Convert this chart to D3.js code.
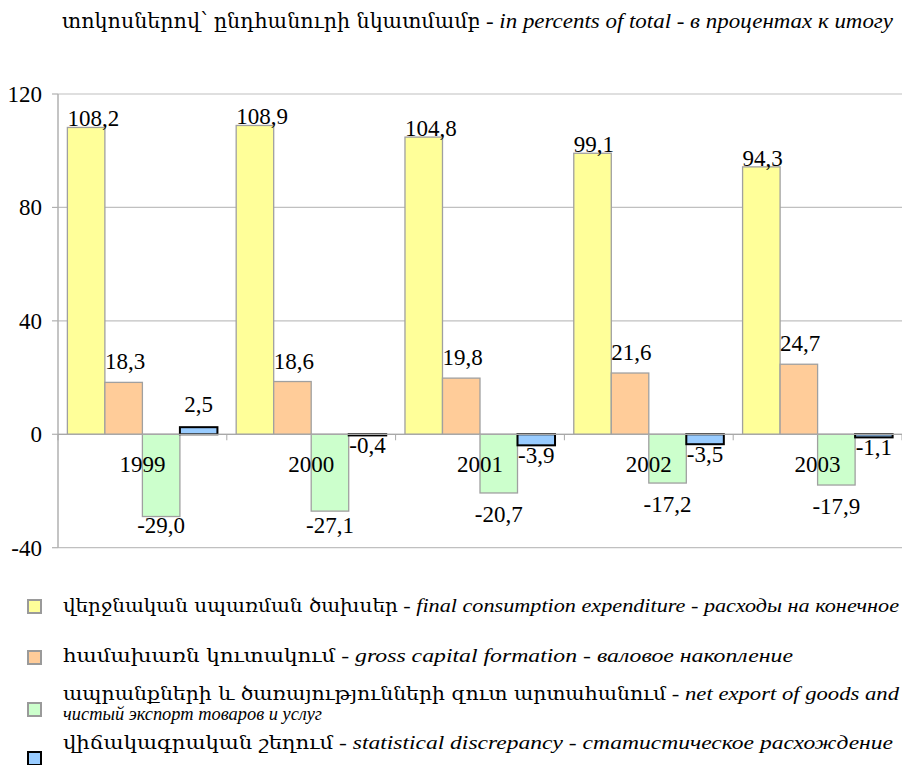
<!DOCTYPE html>
<html>
<head>
<meta charset="utf-8">
<script src="https://cdn.jsdelivr.net/npm/d3@7"></script>
</head>
<body>
<div id="chart"></div>
<script>
// --- data ---
const years = ['1999', '2000', '2001', '2002', '2003'];
const finalConsumption = [108.2, 108.9, 104.8, 99.1, 94.3];
const grossCapital = [18.3, 18.6, 19.8, 21.6, 24.7];
const netExport = [-29.0, -27.1, -20.7, -17.2, -17.9];
const discrepancy = [2.5, -0.4, -3.9, -3.5, -1.1];
const yTicks = [-40, 0, 40, 80, 120];

// text parts: a = Armenian, i = italic
const titleParts = [
  { t: 'տոկոսներով՝ ընդհանուրի նկատմամբ', a: true },
  { t: ' - ' },
  { t: 'in percents of  total', i: true },
  { t: ' - ' },
  { t: 'в процентах к итогу', i: true }
];

const legendRows = [
  [[{ t: 'վերջնական սպառման ծախսեր', a: true }, { t: ' - ' }, { t: 'final consumption expenditure', i: true }, { t: ' - ' }, { t: 'расходы на конечное', i: true }]],
  [[{ t: 'համախառն կուտակում', a: true }, { t: ' - ' }, { t: 'gross capital formation', i: true }, { t: ' - ' }, { t: 'валовое накопление', i: true }]],
  [[{ t: 'ապրանքների և ծառայությունների զուտ արտահանում', a: true }, { t: ' - ' }, { t: 'net export of goods and', i: true }],
   [{ t: 'чистый экспорт товаров и услуг', i: true }]],
  [[{ t: 'վիճակագրական շեղում', a: true }, { t: ' - ' }, { t: 'statistical discrepancy', i: true }, { t: ' - ' }, { t: 'статистическое расхождение', i: true }]]
];

const seriesKeys = ['fc', 'gc', 'ne', 'sd'];
const seriesValues = [finalConsumption, grossCapital, netExport, discrepancy];
const fills = ['#ffff99', '#ffcc99', '#ccffcc', '#99ccff'];
const strokes = ['#a0a0a0', '#a0a0a0', '#a0a0a0', '#000000'];

// --- layout ---
const W = 902, H = 765;
const FONT = 'Liberation Serif, serif';
const ARM_FONT = 'DejaVu Serif Condensed, DejaVu Serif, serif';
const plot = { left: 58, right: 902, top: 94, bottom: 547.7 };
const fmt = v => (v < 0 ? '-' : '') + d3.format('.1f')(Math.abs(v)).replace('.', ',');

const svg = d3.select('#chart').append('svg').attr('width', W).attr('height', H)
  .style('position', 'absolute').style('left', '0px').style('top', '0px')
  .style('font-family', FONT);

const x0 = d3.scaleBand().domain(years).range([plot.left, plot.right]).padding(0);
const x1 = d3.scaleBand().domain(seriesKeys).range([0, x0.bandwidth()]).paddingInner(0).paddingOuter(0.25);
const y = d3.scaleLinear().domain([-40, 120]).range([plot.bottom, plot.top]);

// gridlines
svg.append('g').selectAll('line').data(yTicks).enter().append('line')
  .attr('x1', plot.left).attr('x2', plot.right)
  .attr('y1', d => y(d)).attr('y2', d => y(d))
  .attr('stroke', '#c0c0c0').attr('stroke-width', 1.2);

// y axis: line, ticks, labels
svg.append('line').attr('x1', plot.left).attr('x2', plot.left).attr('y1', plot.top).attr('y2', plot.bottom)
  .attr('stroke', '#b0b0b0').attr('stroke-width', 1.5);
svg.append('g').selectAll('line').data(yTicks).enter().append('line')
  .attr('x1', plot.left - 6).attr('x2', plot.left)
  .attr('y1', d => y(d)).attr('y2', d => y(d))
  .attr('stroke', '#b0b0b0').attr('stroke-width', 1.2);
svg.append('g').selectAll('text').data(yTicks).enter().append('text')
  .attr('x', plot.left - 16).attr('y', d => y(d) + 8)
  .attr('text-anchor', 'end')
  .style('font-family', FONT).style('font-size', '23px')
  .text(d => String(d));

// bars
seriesValues.forEach((vals, s) => {
  svg.append('g').selectAll('rect').data(vals).enter().append('rect')
    .attr('x', (d, i) => x0(years[i]) + x1(seriesKeys[s]))
    .attr('y', d => Math.min(y(d), y(0)))
    .attr('width', x1.bandwidth())
    .attr('height', d => Math.abs(y(d) - y(0)))
    .attr('fill', fills[s])
    .attr('stroke', strokes[s])
    .attr('stroke-width', s === 3 ? 2 : 1.3);
});

// x axis line and ticks
svg.append('line').attr('x1', plot.left).attr('x2', plot.right).attr('y1', y(0)).attr('y2', y(0))
  .attr('stroke', '#a8a8a8').attr('stroke-width', 1.3);
svg.append('g').selectAll('line').data(years.concat(['end'])).enter().append('line')
  .attr('x1', d => d === 'end' ? plot.right : x0(d)).attr('x2', d => d === 'end' ? plot.right : x0(d))
  .attr('y1', y(0)).attr('y2', y(0) + 6)
  .attr('stroke', '#a8a8a8').attr('stroke-width', 1);

// year labels
svg.append('g').selectAll('text').data(years).enter().append('text')
  .attr('x', d => x0(d) + x0.bandwidth() / 2).attr('y', y(0) + 38)
  .attr('text-anchor', 'middle')
  .style('font-family', FONT).style('font-size', '23px').text(d => d);

// value labels
seriesValues.forEach((vals, s) => {
  svg.append('g').selectAll('text').data(vals).enter().append('text')
    .attr('x', (d, i) => {
      const bx = x0(years[i]) + x1(seriesKeys[s]);
      return s < 2 ? bx : bx + x1.bandwidth() / 2;
    })
    .attr('y', d => {
      if (s === 0) return y(d) - 1;
      if (s === 1) return y(d) - 13;
      if (s === 2) return Math.min(y(d) + 29, plot.bottom - 15);
      return d >= 0 ? y(d) - 15 : y(d) + 18;
    })
    .attr('text-anchor', s < 2 ? 'start' : 'middle')
    .style('font-family', FONT).style('font-size', '23px')
    .text(d => fmt(d));
});

// mixed-style text, condensed to a target width with textLength
function addText(x, yPos, size, width, parts) {
  const t = svg.append('text').attr('x', x).attr('y', yPos)
    .style('font-family', FONT).style('font-size', size + 'px')
    .attr('textLength', width).attr('lengthAdjust', 'spacingAndGlyphs');
  parts.forEach(p => {
    t.append('tspan')
      .style('font-family', p.a ? ARM_FONT : FONT)
      .style('font-style', p.i ? 'italic' : 'normal')
      .text(p.t);
  });
  return t;
}

addText(62, 28, 21, 831, titleParts);

// legend
const legendY = [612, 662, 700, 749];
const boxY = [600, 651, 703, 752];
const legendTargets = [[836], [730], [836, 259], [830]];

legendRows.forEach((lines, r) => {
  svg.append('rect').attr('x', 28).attr('y', boxY[r]).attr('width', 13).attr('height', 13)
    .attr('fill', fills[r]).attr('stroke', r === 3 ? '#000' : '#9a9a9a').attr('stroke-width', 2);
  lines.forEach((parts, l) => {
    addText(63, legendY[r] + l * 20, 19, legendTargets[r][l], parts);
  });
});
</script>
</body>
</html>
